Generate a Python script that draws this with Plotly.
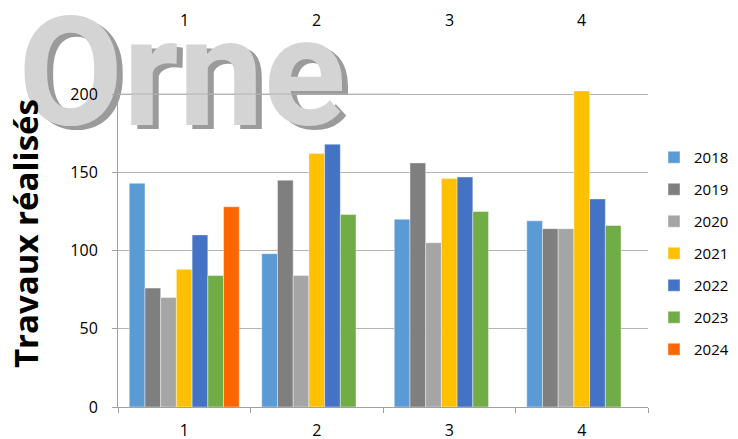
import plotly.graph_objects as go

categories = ["1", "2", "3", "4"]
years = ["2018", "2019", "2020", "2021", "2022", "2023", "2024"]
v2018 = [143, 98, 120, 119]
v2019 = [76, 145, 156, 114]
v2020 = [70, 84, 105, 114]
v2021 = [88, 162, 146, 202]
v2022 = [110, 168, 147, 133]
v2023 = [84, 123, 125, 116]
v2024 = [128, None, None, None]
series = [v2018, v2019, v2020, v2021, v2022, v2023, v2024]
colors = ["#5B9BD5", "#7F7F7F", "#A5A5A5", "#FFC000", "#4472C4", "#70AD47", "#FF6600"]
title_text = "Orne"
y_title = "Travaux réalisés"
y_ticks = [0, 50, 100, 150, 200]

# page body has an 8px margin: figure drawn from (8, 8) in the window
OFF = 8
W, H = 738 - OFF, 439 - OFF
# plot area in window pixels
WL, WR, WT, WB = 118, 648, 80, 407
L, T = WL - OFF, WT - OFF
R, B = W - (WR - OFF), H - (WB - OFF)
pw, ph = W - L - R, H - T - B

def px_to_x(px):  # window px -> paper x
    return (px - OFF - L) / pw

def py_to_y(py):  # window py -> paper y
    return (H - B - (py - OFF)) / ph

fig = go.Figure()
for name, vals, col in zip(years, series, colors):
    fig.add_trace(go.Bar(
        x=categories, y=vals, name=name, legendgroup=name,
        marker=dict(color=col, line=dict(color="rgba(255,255,255,0.7)", width=0.6)),
    ))

# WordArt-like title drawn as a text trace (under axis lines); x2/y2 in window pixel units
tx, ty = 182, 163
for dx, dy, col in [(6, 4, "#9B9B9B"), (0, 0, "#D4D4D4")]:
    fig.add_trace(go.Scatter(
        x=[tx + dx], y=[ty + dy], xaxis="x2", yaxis="y2", mode="text",
        text=[title_text], textposition="top center", cliponaxis=False,
        textfont=dict(family="Roboto", size=152, color=col, weight="bold"),
        showlegend=False, hoverinfo="skip",
    ))

# top labels (remains of an upper chart's axis)
for i, c in enumerate(categories):
    fig.add_annotation(x=i, xref="x", y=py_to_y(20), yref="paper", yanchor="middle",
                       xanchor="center", text=c, showarrow=False,
                       font=dict(family="Open Sans", size=16, color="#000"))
for i in range(len(categories) + 1):
    fig.add_shape(type="line", xref="x", yref="paper", x0=i - 0.5, x1=i - 0.5,
                  y0=py_to_y(3), y1=py_to_y(-1), line=dict(color="#A0A0A0", width=1))

# y title
fig.add_annotation(x=px_to_x(25), xref="paper", y=py_to_y(234), yref="paper",
                   xanchor="center", yanchor="middle",
                   text=y_title, textangle=-90, showarrow=False,
                   font=dict(family="Open Sans", size=33, color="#000", weight="bold"))

# gridline over the title
fig.add_shape(type="line", xref="paper", yref="y", x0=0, x1=px_to_x(400), y0=200, y1=200,
              layer="above", line=dict(color="#B4B4B4", width=1))

fig.update_layout(
    width=W, height=H,
    margin=dict(l=L, r=R, t=T, b=B, autoexpand=False),
    paper_bgcolor="white", plot_bgcolor="white",
    barmode="group", bargap=0.17, bargroupgap=0,
    font=dict(family="Open Sans", size=16, color="#000"),
    xaxis=dict(type="category", categoryorder="array", categoryarray=categories,
               range=[-0.5, len(categories) - 0.5],
               showline=True, linecolor="#A0A0A0", linewidth=1,
               ticks="outside", ticklen=5, tickcolor="#A0A0A0", tickson="boundaries",
               showgrid=False, ticklabelstandoff=9, automargin=False,
               tickfont=dict(family="Open Sans", size=16, color="#000")),
    yaxis=dict(range=[0, 209], tickvals=y_ticks,
               showline=True, linecolor="#A0A0A0", linewidth=1,
               ticks="outside", ticklen=5, tickcolor="#A0A0A0",
               showgrid=True, gridcolor="#B4B4B4", gridwidth=1, zeroline=False,
               ticklabelstandoff=11, automargin=False,
               tickfont=dict(family="Open Sans", size=16, color="#000")),
    xaxis2=dict(overlaying="x", range=[WL, WR], visible=False),
    yaxis2=dict(overlaying="y", range=[WB, WT], visible=False),
    legend=dict(x=px_to_x(654), xanchor="left", y=py_to_y(141), yanchor="top",
                traceorder="grouped", tracegroupgap=9.5,
                font=dict(family="Open Sans", size=15, color="#000"),
                bgcolor="rgba(0,0,0,0)", itemwidth=30),
    showlegend=True,
)

fig.write_html("out.html")
